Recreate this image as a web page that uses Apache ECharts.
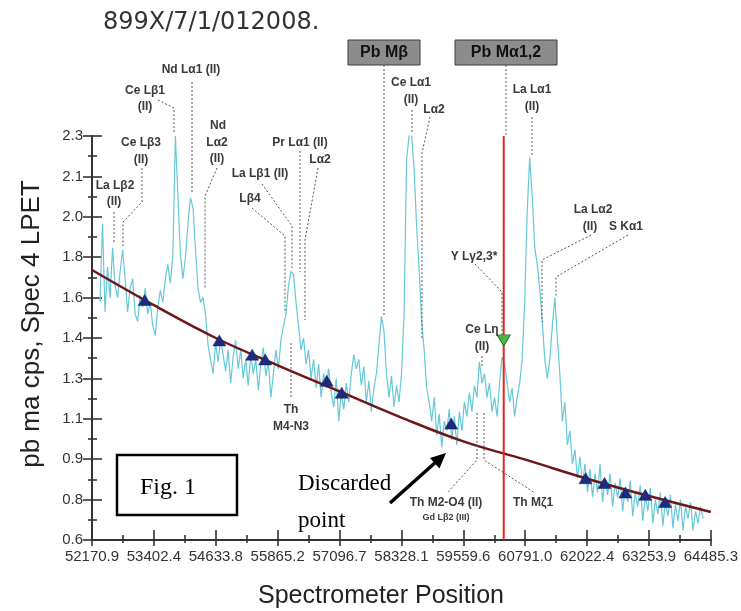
<!DOCTYPE html>
<html><head><meta charset="utf-8">
<script src="https://cdn.jsdelivr.net/npm/echarts@6/dist/echarts.min.js"></script>
<style>html,body{margin:0;padding:0;background:#fff}#c{width:741px;height:611px}</style>
</head><body><div id="c"></div>
<script>
// ---------- data ----------
const xTickValues = [52170.9, 53402.4, 54633.8, 55865.2, 57096.7, 58328.1, 59559.6, 60791.0, 62022.4, 63253.9, 64485.3];
const xTickLabels = ['52170.9','53402.4','54633.8','55865.2','57096.7','58328.1','59559.6','60791.0','62022.4','63253.9','64485.3'];
const yTickValues = [0.6, 0.77, 0.94, 1.11, 1.28, 1.45, 1.62, 1.79, 1.96, 2.13, 2.3];
const yTickLabels = ['0.6','0.8','0.9','1.1','1.3','1.4','1.6','1.8','2.0','2.1','2.3'];

// measured spectrum (pb ma cps)
const specPos = [
52330,52380,52430,52480,52530,52580,52630,52680,52730,52780,
52830,52880,52930,52980,53030,53080,53130,53180,53230,53280,
53330,53380,53430,53480,53530,53580,53630,53680,53730,53780,
53830,53880,53930,53980,54030,54080,54130,54180,54230,54280,
54330,54380,54430,54480,54530,54580,54630,54680,54730,54780,
54830,54880,54930,54980,55030,55080,55130,55180,55230,55280,
55330,55380,55430,55480,55530,55580,55630,55680,55730,55780,
55830,55880,55930,55980,56030,56080,56130,56180,56230,56280,
56330,56380,56430,56480,56530,56580,56630,56680,56730,56780,
56830,56880,56930,56980,57030,57080,57130,57180,57230,57280,
57330,57380,57430,57480,57530,57580,57630,57680,57730,57780,
57830,57880,57930,57980,58030,58080,58130,58180,58230,58280,
58330,58380,58430,58480,58530,58580,58630,58680,58730,58780,
58830,58880,58930,58980,59030,59080,59130,59180,59230,59280,
59330,59380,59430,59480,59530,59580,59630,59680,59730,59780,
59830,59880,59930,59980,60030,60080,60130,60180,60230,60280,
60330,60380,60430,60480,60530,60580,60630,60680,60730,60780,
60830,60880,60930,60980,61030,61080,61130,61180,61230,61280,
61330,61380,61430,61480,61530,61580,61630,61680,61730,61780,
61830,61880,61930,61980,62030,62080,62130,62180,62230,62280,
62330,62380,62430,62480,62530,62580,62630,62680,62730,62780,
62830,62880,62930,62980,63030,63080,63130,63180,63230,63280,
63330,63380,63430,63480,63530,63580,63630,63680,63730,63780,
63830,63880,63930,63980,64030,64080,64130,64180,64230,64280,
64330];
const specVal = [
1.60,1.93,1.56,1.75,1.62,1.83,1.67,1.62,1.73,1.82,
1.70,1.56,1.66,1.70,1.55,1.52,1.63,1.58,1.66,1.55,
1.60,1.50,1.46,1.58,1.65,1.60,1.70,1.76,1.68,1.80,
2.30,2.05,1.80,1.70,1.79,1.93,2.04,2.00,1.82,1.66,
1.60,1.62,1.55,1.42,1.36,1.30,1.43,1.35,1.44,1.38,
1.31,1.40,1.26,1.37,1.44,1.32,1.40,1.28,1.36,1.25,
1.38,1.30,1.36,1.23,1.34,1.41,1.29,1.35,1.20,1.30,
1.40,1.32,1.44,1.50,1.55,1.67,1.73,1.72,1.60,1.50,
1.40,1.45,1.34,1.40,1.28,1.36,1.24,1.34,1.20,1.30,
1.24,1.32,1.22,1.16,1.28,1.10,1.22,1.15,1.26,1.18,
1.30,1.38,1.32,1.36,1.25,1.33,1.18,1.27,1.14,1.24,
1.30,1.42,1.54,1.48,1.30,1.20,1.29,1.16,1.25,1.18,
1.30,1.55,2.20,2.30,2.31,2.16,1.92,1.74,1.52,1.40,
1.24,1.18,1.10,1.20,1.04,1.13,0.99,1.10,1.06,1.15,
1.02,1.12,1.00,1.14,1.06,1.18,1.12,1.22,1.14,1.25,
1.20,1.35,1.26,1.30,1.20,1.26,1.14,1.20,1.12,1.26,
1.37,1.34,1.26,1.18,1.24,1.12,1.20,1.26,1.36,1.60,
1.98,2.21,2.05,1.83,1.76,1.66,1.52,1.36,1.28,1.36,
1.50,1.62,1.45,1.30,1.10,1.18,1.00,1.06,0.92,0.98,
0.86,0.95,0.84,0.92,0.80,0.90,0.78,0.88,0.80,0.92,
0.76,0.86,0.79,0.88,0.74,0.84,0.78,0.86,0.72,0.82,
0.76,0.85,0.70,0.80,0.74,0.83,0.68,0.79,0.72,0.82,
0.67,0.77,0.71,0.80,0.66,0.76,0.70,0.79,0.65,0.75,
0.68,0.77,0.64,0.74,0.69,0.76,0.64,0.72,0.67,0.74,
0.69];

// fitted background curve
const bgPos = [52170.9, 53402.4, 54633.8, 55865.2, 57096.7, 58328.1, 59559.6, 60791.0, 62022.4, 63253.9, 64485.3];
const bgVal = [1.736, 1.588, 1.450, 1.335, 1.225, 1.115, 1.015, 0.938, 0.858, 0.785, 0.718];

// background points (triangles)
const ptPos = [53220, 54705, 55358, 55616, 56843, 57140, 59318, 61992, 62368, 62784, 63180, 63575];
const ptVal = [1.61, 1.44, 1.38, 1.36, 1.27, 1.22, 1.09, 0.86, 0.84, 0.80, 0.79, 0.76];

// Pb Ma peak position
const peakPos = [60363];
const peakVal = [1.44];
const peakLineVal = [0.6, 2.3];

// ---------- chart ----------
const FONT = '"Liberation Sans", Arial, sans-serif';
const xMinor = xTickValues.slice(1).map((v, i) => (v + xTickValues[i]) / 2);
const yMinor = yTickValues.slice(1).map((v, i) => (v + yTickValues[i]) / 2);
const xMin = xTickValues[0], xMax = xTickValues[xTickValues.length - 1];
const yMin = yTickValues[0], yMax = yTickValues[yTickValues.length - 1];

function nearestLabel(vals, labels, v) {
  let b = 0;
  vals.forEach((t, i) => { if (Math.abs(t - v) < Math.abs(vals[b] - v)) b = i; });
  return labels[b];
}
function xAx(values, inside, len, main) {
  return {
    type: 'value', position: 'bottom', min: xMin, max: xMax,
    axisLine: { show: main, onZero: false, lineStyle: { color: '#333', width: 2 } },
    axisTick: { show: true, inside: inside, length: len, customValues: values, lineStyle: { color: '#333', width: 1.6 } },
    axisLabel: main ? { show: true, customValues: xTickValues, margin: 9, fontSize: 15, color: '#333', fontFamily: FONT,
      formatter: v => nearestLabel(xTickValues, xTickLabels, v) } : { show: false },
    splitLine: { show: false }
  };
}
function yAx(values, inside, len, main) {
  return {
    type: 'value', position: 'left', min: yMin, max: yMax,
    axisLine: { show: main, onZero: false, lineStyle: { color: '#333', width: 2 } },
    axisTick: { show: true, inside: inside, length: len, customValues: values, lineStyle: { color: '#333', width: 1.6 } },
    axisLabel: main ? { show: true, customValues: yTickValues, margin: 9, fontSize: 15, color: '#333', fontFamily: FONT,
      formatter: v => nearestLabel(yTickValues, yTickLabels, v) } : { show: false },
    splitLine: { show: false }
  };
}

const G = [];
const LBL = '#3a3a3a';
function t(x, y, s, size, extra) {
  G.push(Object.assign({ type: 'text', x: x, y: y, z: 10,
    style: { text: s, font: 'bold ' + (size || 12) + 'px ' + FONT, fill: LBL, align: 'center', verticalAlign: 'middle' } }, extra || {}));
}
function dl(pts) {
  G.push({ type: 'polyline', z: 9, shape: { points: pts }, style: { stroke: '#555', lineWidth: 1, lineDash: [2, 2], fill: null } });
}
// title
G.push({ type: 'text', x: 103, y: 23, style: { text: '899X/7/1/012008.', font: '24px "DejaVu Sans", sans-serif', fill: '#333', align: 'left', verticalAlign: 'middle' } });
// axis names
G.push({ type: 'text', x: 32, y: 324, rotation: Math.PI / 2, style: { text: 'pb ma cps, Spec 4 LPET', font: '26px ' + FONT, fill: '#222', align: 'center', verticalAlign: 'middle' } });
G.push({ type: 'text', x: 381, y: 596, style: { text: 'Spectrometer Position', font: '25px ' + FONT, fill: '#222', align: 'center', verticalAlign: 'middle' } });
// Pb boxes
G.push({ type: 'rect', z: 9, shape: { x: 348, y: 40, width: 72, height: 25 }, style: { fill: '#8c8c8c', stroke: '#3c3c3c', lineWidth: 1 } });
G.push({ type: 'rect', z: 9, shape: { x: 455, y: 40, width: 102, height: 25 }, style: { fill: '#8c8c8c', stroke: '#3c3c3c', lineWidth: 1 } });
t(384, 53, 'Pb Mβ', 16, {}); G[G.length - 1].style.fill = '#111';
t(506, 53, 'Pb Mα1,2', 16, {}); G[G.length - 1].style.fill = '#111';
// labels
t(191, 70, 'Nd Lα1 (II)');
t(145, 91, 'Ce Lβ1'); t(145, 107, '(II)');
t(218, 126, 'Nd'); t(217, 143, 'Lα2'); t(217, 159, '(II)');
t(141, 143, 'Ce Lβ3'); t(141, 160, '(II)');
t(115, 186, 'La Lβ2'); t(114, 202, '(II)');
t(300, 143, 'Pr Lα1 (II)'); t(320, 160, 'Lα2');
t(260, 174, 'La Lβ1 (II)'); t(250, 199, 'Lβ4');
t(291, 410, 'Th'); t(291, 427, 'M4-N3');
t(411, 83, 'Ce Lα1'); t(411, 100, '(II)'); t(434, 110, 'Lα2');
t(532, 90, 'La Lα1'); t(532, 107, '(II)');
t(593, 210, 'La Lα2'); t(590, 227, '(II)'); t(626, 227, 'S Kα1');
t(474, 257, 'Y Lγ2,3*');
t(482, 330, 'Ce Lη'); t(482, 347, '(II)');
t(446, 503, 'Th M2-O4 (II)'); t(446, 518, 'Gd Lβ2 (III)', 9);
t(533, 503, 'Th Mζ1');
// leaders
dl([[192, 82], [192, 192]]);
dl([[158, 100], [174, 108], [174, 134]]);
dl([[217, 168], [205, 196], [205, 288]]);
dl([[142, 168], [142, 202], [123, 222], [123, 246]]);
dl([[114, 212], [114, 244]]);
dl([[252, 208], [285, 236], [285, 313]]);
dl([[262, 184], [292, 226], [292, 268]]);
dl([[300, 151], [300, 272]]);
dl([[318, 168], [305, 240], [305, 320]]);
dl([[291, 343], [291, 398]]);
dl([[384, 65], [384, 316]]);
dl([[506, 65], [506, 137]]);
dl([[412, 110], [412, 134]]);
dl([[430, 117], [422, 153], [422, 338]]);
dl([[532, 117], [532, 155]]);
dl([[591, 235], [542, 260], [542, 322]]);
dl([[628, 235], [556, 277], [556, 296]]);
dl([[475, 264], [502, 292], [502, 338]]);
dl([[482, 356], [482, 368]]);
dl([[477, 413], [477, 460], [447, 493]]);
dl([[484, 413], [484, 460], [535, 493]]);
// Fig. 1 box
G.push({ type: 'rect', z: 8, shape: { x: 117, y: 455, width: 120, height: 60 }, style: { fill: '#fff', stroke: '#000', lineWidth: 2.5 } });
G.push({ type: 'text', z: 9, x: 168, y: 488, style: { text: 'Fig. 1', font: '24px "Liberation Serif", "Times New Roman", serif', fill: '#000', align: 'center', verticalAlign: 'middle' } });
// Discarded point note + arrow
G.push({ type: 'text', z: 9, x: 298, y: 484, style: { text: 'Discarded', font: '23px "Liberation Serif", "Times New Roman", serif', fill: '#000', align: 'left', verticalAlign: 'middle' } });
G.push({ type: 'text', z: 9, x: 298, y: 521, style: { text: 'point', font: '23px "Liberation Serif", "Times New Roman", serif', fill: '#000', align: 'left', verticalAlign: 'middle' } });
G.push({ type: 'polyline', z: 9, shape: { points: [[390, 503], [437, 461]] }, style: { stroke: '#000', lineWidth: 3.5, fill: null } });
G.push({ type: 'polygon', z: 9, shape: { points: [[446, 453], [439.5, 468.5], [430, 458]] }, style: { fill: '#000' } });

const chart = echarts.init(document.getElementById('c'), null, { renderer: 'canvas' });
chart.setOption({
  animation: false,
  backgroundColor: '#fff',
  grid: { left: 92, right: 27, top: 136, bottom: 71 },
  xAxis: [xAx(xTickValues, false, 6, true), xAx(xTickValues, true, 10, false), xAx(xMinor, false, 3, false), xAx(xMinor, true, 5, false)],
  yAxis: [yAx(yTickValues, false, 9, true), yAx(yTickValues, true, 10, false), yAx(yMinor, false, 4, false), yAx(yMinor, true, 5, false)],
  series: [
    { name: 'spectrum', type: 'line', data: specPos.map((p, i) => [p, specVal[i]]), showSymbol: false, symbol: 'none',
      lineStyle: { color: '#66c8d8', width: 1.2 }, z: 2 },
    { name: 'background', type: 'line', smooth: 0.4, data: bgPos.map((p, i) => [p, bgVal[i]]), showSymbol: false, symbol: 'none',
      lineStyle: { color: '#6e1717', width: 2.5 }, z: 3 },
    { name: 'Pb Ma', type: 'line', data: peakLineVal.map(v => [peakPos[0], v]), showSymbol: false, symbol: 'none',
      lineStyle: { color: '#e4241f', width: 2 }, z: 4 },
    { name: 'bg points', type: 'scatter', data: ptPos.map((p, i) => [p, ptVal[i]]), symbol: 'triangle', symbolSize: [13, 11],
      itemStyle: { color: '#1d2b7f', borderColor: '#141d5a', borderWidth: 0.5, opacity: 1 }, z: 5 },
    { name: 'peak', type: 'scatter', data: peakPos.map((p, i) => [p, peakVal[i]]), symbol: 'triangle', symbolRotate: 180, symbolSize: [13, 11],
      itemStyle: { color: '#4cbb48', borderColor: '#2a6e2a', borderWidth: 1, opacity: 1 }, z: 6 }
  ],
  graphic: G
});
</script>
</body></html>
